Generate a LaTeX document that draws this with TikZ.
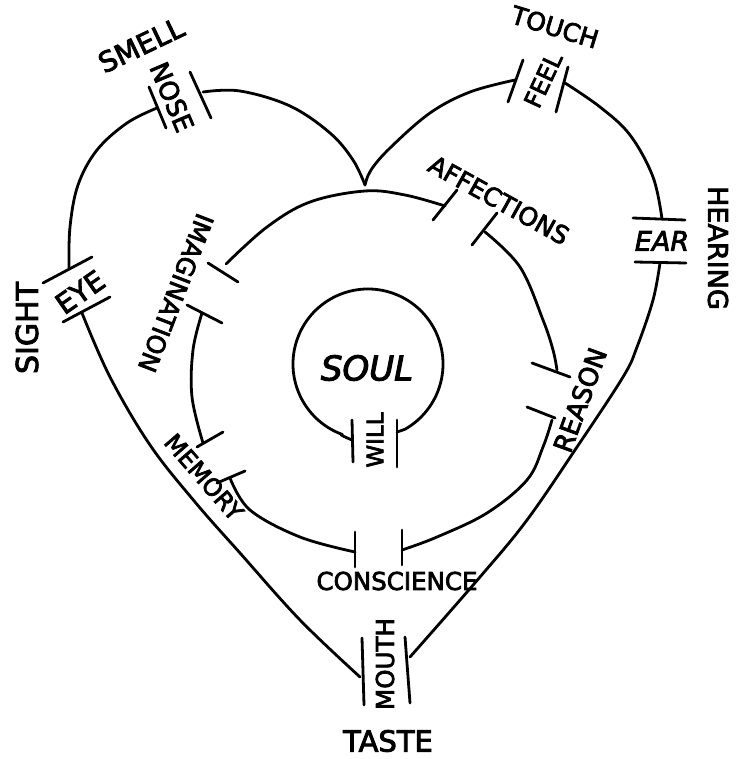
\documentclass[tikz,border=0pt]{standalone}
\usepackage{fontspec}
\setmainfont[FakeBold=3]{DejaVu Sans}
\newcommand\fsz[1]{\fontsize{#1}{#1}\selectfont}
\begin{document}
\begin{tikzpicture}[x=1pt,y=-1pt,
  ln/.style={line width=2.8pt,line cap=round,line join=round},
  lbl/.style={inner sep=0pt,outer sep=0pt}]
\useasboundingbox (0,0) rectangle (740,759);
% ---------- gate bars ----------
\draw[ln] (149,87) -- (166,128);  \draw[ln] (190,72) -- (211,118);   % nose
\draw[ln] (43,283) -- (92,257);   \draw[ln] (63,322) -- (110,297);   % eye
\draw[ln] (523,60) -- (508,102);  \draw[ln] (568,67) -- (556,112);   % feel
\draw[ln] (633,218) -- (685,220); \draw[ln] (635,262) -- (686,263);  % ear
\draw[ln] (362,638) -- (364,705); \draw[ln] (405,637) -- (410,703);  % mouth
\draw[ln] (208,263) -- (238,282); \draw[ln] (187,305) -- (222,323);  % imagination
\draw[ln] (433,220) -- (457,190); \draw[ln] (472,245) -- (497,213);  % affections
\draw[ln] (532,363) -- (570,377); \draw[ln] (527,407) -- (555,418);  % reason
\draw[ln] (197,447) -- (223,432); \draw[ln] (217,483) -- (245,471);  % memory
\draw[ln] (355,532) -- (355,567); \draw[ln] (402,530) -- (402,565);  % conscience
\draw[ln] (352,420) -- (353,462); \draw[ln] (397,420) -- (397,467);  % will
% ---------- attach points ----------
\coordinate (noseL) at (157,108);  \coordinate (noseR) at (203,92);
\coordinate (eyeT) at (69,268);    \coordinate (eyeB) at (82,313);
\coordinate (feelL) at (515,80);   \coordinate (feelR) at (565,83);
\coordinate (earT) at (662,219);   \coordinate (earB) at (660,263);
\coordinate (mouthL) at (360,677); \coordinate (mouthR) at (410,657);
\coordinate (cusp) at (365,185);
\coordinate (imgT) at (226,264);   \coordinate (imgB) at (202,313);
\coordinate (affL) at (445,206);   \coordinate (affR) at (485,232);
\coordinate (reaT) at (557,370);   \coordinate (reaB) at (552,420);
\coordinate (conL) at (355,552);   \coordinate (conR) at (402,550);
\coordinate (memT) at (203,443);   \coordinate (memB) at (230,478);
\coordinate (soulc) at (368,364);
\coordinate (willL) at (352,440);  \coordinate (willR) at (397,432);
% ---------- outer heart ----------
\draw[ln] plot[smooth,tension=0.6] coordinates {(noseL) (127,123) (97,150) (78,185) (70,227) (eyeT)};
\draw[ln] plot[smooth,tension=0.6] coordinates {(noseR) (240,91) (290,106) (330,133) (353,160) (cusp)};
\draw[ln] plot[smooth,tension=0.6] coordinates {(cusp) (371,170) (390,148) (430,113) (470,92) (feelL)};
\draw[ln] plot[smooth,tension=0.6] coordinates {(feelR) (600,107) (630,135) (653,177) (earT)};
\draw[ln] plot[smooth,tension=0.6] coordinates {(earB) (653,300) (637,347) (623,377) (577,447) (527,520) (480,577) (mouthR)};
\draw[ln] plot[smooth,tension=0.6] coordinates {(eyeB) (110,377) (150,445) (195,502) (240,553) (300,620) (mouthL)};
% ---------- inner ring ----------
\draw[ln] plot[smooth,tension=0.6] coordinates {(imgT) (267,227) (310,202) (365,191) (405,195) (affL)};
\draw[ln] plot[smooth,tension=0.6] coordinates {(affR) (520,267) (543,320) (553,350) (reaT)};
\draw[ln] plot[smooth,tension=0.6] coordinates {(reaB) (543,447) (527,480) (487,513) (437,537) (conR)};
\draw[ln] plot[smooth,tension=0.6] coordinates {(conL) (300,537) (250,510) (memB)};
\draw[ln] plot[smooth,tension=0.6] coordinates {(memT) (192,397) (193,350) (imgB)};
% ---------- soul ----------
\draw[ln] (willL) .. controls (345,437) and (338,434) .. ([shift={(110:75)}]soulc)
  arc[start angle=110,end angle=420,radius=75]
  .. controls (406,429) and (400,431) .. (willR);
% ---------- labels ----------
\node[lbl,rotate=25.5,font=\fsz{28}] (smell) at (141,45) {SMELL};
\node[lbl,rotate=-67,font=\fsz{26}] (nose) at (172,97) {NOSE};
\node[lbl,rotate=-17,font=\fsz{25}] (touch) at (555,27) {TOUCH};
\node[lbl,rotate=65,font=\fsz{24}] (feel) at (543,80) {FEEL};
\node[lbl,rotate=90,font=\fsz{30}] (sight) at (27,328) {SIGHT};
\node[lbl,rotate=35,font=\fsz{28}] (eye) at (80,292) {EYE};
\node[lbl,rotate=-90,font=\fsz{27}] (hearing) at (718,248) {HEARING};
\node[lbl,font=\fsz{27}\itshape] (ear) at (662,241) {EAR};
\node[lbl,rotate=-111,font=\fsz{25}] (imagination) at (176,293) {IMAGINATION};
\node[lbl,rotate=-29,font=\fsz{25}] (affections) at (499,200) {AFFECTIONS};
\node[lbl,rotate=70,font=\fsz{26}] (reason) at (580,400) {REASON};
\node[lbl,rotate=-49,font=\fsz{24}] (memory) at (204,477) {MEMORY};
\node[lbl,font=\fsz{24.5}] (conscience) at (397,581) {CONSCIENCE};
\node[lbl,font=\fsz{34}\itshape] (soul) at (367,368) {SOUL};
\node[lbl,rotate=90,font=\fsz{23}] (will) at (375,440) {WILL};
\node[lbl,rotate=90,font=\fsz{24.5}] (mouth) at (385,664) {MOUTH};
\node[lbl,font=\fsz{29}] (taste) at (388,741) {TASTE};
\end{tikzpicture}
\end{document}
